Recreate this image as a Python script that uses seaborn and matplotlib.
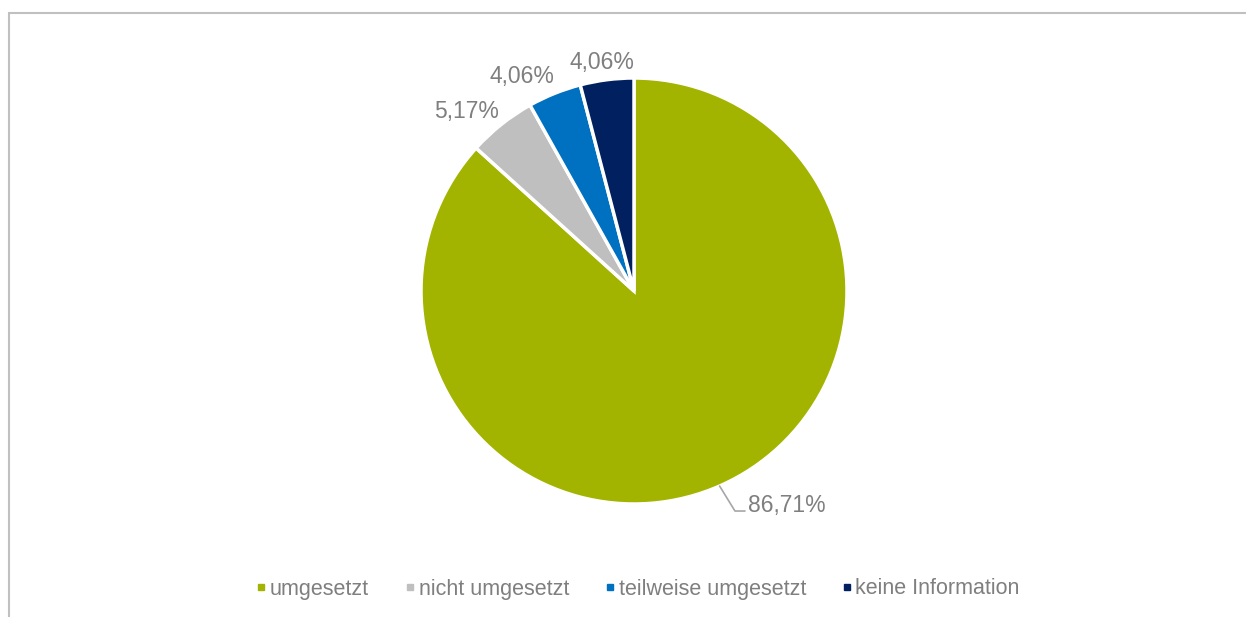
import numpy as np
import matplotlib.pyplot as plt
import seaborn as sns
from matplotlib.lines import Line2D
from matplotlib.patches import Rectangle

categories = ["umgesetzt", "nicht umgesetzt", "teilweise umgesetzt", "keine Information"]
shares = [86.71, 5.17, 4.06, 4.06]
colors = ["#A2B400", "#BFBFBF", "#0070C0", "#002060"]
pct_labels = ["86,71%", "5,17%", "4,06%", "4,06%"]

sns.set_theme(style="white")
plt.rcParams["font.family"] = ["Liberation Sans", "DejaVu Sans"]
text_grey = "#7F7F7F"

W, H = 1246, 617
fig = plt.figure(figsize=(W / 100, H / 100), dpi=100)

# light grey frame, only top and left edges visible in the reference
fig.patches.append(Rectangle((8.5 / W, -0.1), 1.2, 1.1 - 13.5 / H,
                             transform=fig.transFigure, fill=False,
                             edgecolor="#C0C0C0", linewidth=1.5))

# place the pie: centre (634, 291) px, radius 213 px
cx, cy, r = 634, 291, 213
ax = fig.add_axes([(cx - r) / W, 1 - (cy + r) / H, 2 * r / W, 2 * r / H])
wedges, _ = ax.pie(shares, colors=colors, startangle=90, counterclock=False,
                   wedgeprops=dict(edgecolor="white", linewidth=2.5))
ax.set_xlim(-1, 1)
ax.set_ylim(-1, 1)
ax.set_aspect("equal")
ax.axis("off")

# small slice labels outside the pie (radial distance, angle shift in degrees)
offsets = [None, (1.155, 4.5), (1.135, 5.7), (1.085, 0.6)]
for i in range(1, 4):
    w = wedges[i]
    d, shift = offsets[i]
    mid = np.deg2rad((w.theta1 + w.theta2) / 2 + shift)
    ax.text(d * np.cos(mid), d * np.sin(mid), pct_labels[i],
            ha="center", va="center", fontsize=16.5, color=text_grey, clip_on=False)

# big slice label with leader line
ang = np.deg2rad(-66.3)
x0, y0 = np.cos(ang), np.sin(ang)
ax.plot([x0, 0.474, 0.521], [y0, -1.033, -1.033], color="#A6A6A6", lw=1.2, clip_on=False)
ax.text(0.535, -1.005, pct_labels[0], ha="left", va="center",
        fontsize=16.5, color=text_grey, clip_on=False)

handles = [Line2D([0], [0], marker="s", linestyle="", markersize=5,
                  markerfacecolor=c, markeredgecolor=c) for c in colors]
fig.legend(handles, categories, loc="center", bbox_to_anchor=(639 / W, 1 - 589 / H),
           ncol=4, frameon=False, fontsize=15.5, labelcolor=text_grey,
           handlelength=0.3, handletextpad=0.25, columnspacing=1.75)

fig.savefig("out.png", dpi=100, facecolor="white")
